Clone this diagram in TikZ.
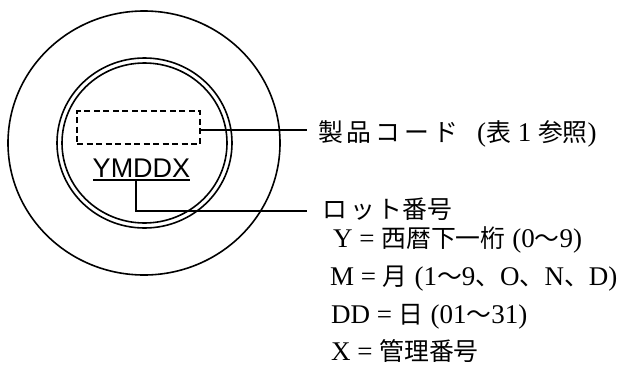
\documentclass[tikz,border=0pt]{standalone}
\usepackage{fontspec}
\setmainfont{Liberation Serif}
\newfontfamily\jp{Noto Sans CJK JP}[Scale=0.92]
\newfontfamily\jpw{Noto Sans CJK JP}[Scale=0.92,LetterSpace=16]
\newfontfamily\arialf{Liberation Sans}
\tikzset{
  ln/.style={line width=1.6pt},
  lbl/.style={anchor=base west, inner sep=0pt, font=\fontsize{27}{29}\selectfont},
}
\begin{document}
\begin{tikzpicture}[x=1pt,y=-1pt]
\useasboundingbox (0,0) rectangle (631,367);
\draw[ln] (144,143) ellipse [x radius=136, y radius=132];
\draw[ln] (144.5,143) ellipse [x radius=87.5, y radius=85];
\draw[ln] (144.5,143) ellipse [x radius=82.5, y radius=80];
\node[draw, line width=1.4pt, minimum width=123pt, minimum height=33pt, inner sep=0pt, dash pattern=on 6pt off 3.5pt] (code) at (138.5,127.5) {};
\node[anchor=base, inner sep=0pt, font=\arialf\fontsize{27}{27}\selectfont] (ymd) at (141.5,177) {YMDDX};
\coordinate (ul1) at (93,180);
\coordinate (ul2) at (190,180);
\draw[ln] (ul1) -- (ul2);
\coordinate (u) at (136,180);
\coordinate (c1) at (307,130);
\coordinate (c2) at (307,211);
\draw[ln] (code.east |- c1) -- (c1);
\draw[ln] (u) -- (u |- c2) -- (c2);
\node[lbl] (t1) at (318,141) {{\jpw 製品コード}\hspace{0.7em}({\jp 表}\hspace{0.25em}1\hspace{0.25em}{\jp 参照})};
\node[lbl] (t2) at (322,218) {\jp ロ\hspace{0.12em}ッ\hspace{0.12em}ト番号};
\node[lbl] (t3) at (333,247) {Y = {\jp 西暦下一桁} (0{\jp 〜}9)};
\node[lbl] (t4) at (330,285) {M = {\jp 月} (1{\jp 〜}9{\jp 、}O{\jp 、}N{\jp 、}D)};
\node[lbl] (t5) at (331,323) {DD = {\jp 日} (01{\jp 〜}31)};
\node[lbl] (t6) at (331,360) {X = {\jp 管理番号}};
\end{tikzpicture}
\end{document}
